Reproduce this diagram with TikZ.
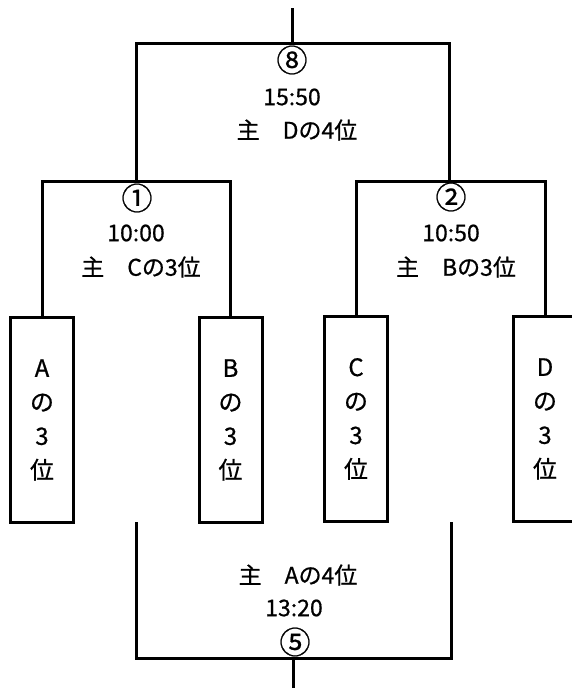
\documentclass[tikz,border=0pt]{standalone}
\usepackage{fontspec}
\setmainfont{Noto Sans CJK JP}[FakeBold=0.7]
\tikzset{
  x=1pt, y=-1pt,
  bracket/.style={line width=3pt, line cap=rect},
  teambox/.style={draw, line width=3pt, minimum width=63pt, minimum height=205pt, inner sep=0pt,
    align=center, font=\fontsize{24}{34}\selectfont},
  lbl/.style={font=\fontsize{23}{25}\selectfont, inner sep=0pt},
  circ/.style={font=\fontsize{31}{34}\selectfont, inner sep=0pt}
}
\begin{document}
\begin{tikzpicture}
\useasboundingbox (0,0) rectangle (571,688);
% team boxes
\node[teambox] (A) at (42,420) {A\\の\\3\\位};
\node[teambox] (B) at (230.5,420) {B\\の\\3\\位};
\node[teambox] (C) at (356,419) {C\\の\\3\\位};
\node[teambox] (D) at (545,419) {D\\の\\3\\位};
% bracket junctions
\coordinate (m1) at (136,181);
\coordinate (m2) at (449,181);
\coordinate (m8) at (292,43);
\coordinate (top) at (292,9);
\coordinate (b1) at (136,523);
\coordinate (b2) at (451,523);
\coordinate (m5) at (293,658);
\coordinate (bot) at (293,690);
% connectors
\draw[bracket] (A.north) |- (m1) -| (B.north);
\draw[bracket] (C.north) |- (m2) -| (D.north);
\draw[bracket] (m1) |- (m8) -| (m2);
\draw[bracket] (m8) -- (top);
\draw[bracket] (b1) |- (m5) -| (b2);
\draw[bracket] (m5) -- (bot);
% match labels
\node[circ] (c8) at (292,60) {⑧};
\node[lbl] (t8) at (292,97) {15:50};
\node[lbl] (h8) at (297,130) {主　Dの4位};
\node[circ] (c1) at (137,198) {①};
\node[lbl] (t1) at (136,233) {10:00};
\node[lbl] (h1) at (141,267) {主　Cの3位};
\node[circ] (c2) at (451,197) {②};
\node[lbl] (t2) at (451,233) {10:50};
\node[lbl] (h2) at (456,267) {主　Bの3位};
\node[lbl] (h5) at (298,575) {主　Aの4位};
\node[lbl] (t5) at (294,608) {13:20};
\node[circ] (c5) at (295,642) {⑤};
\end{tikzpicture}
\end{document}
